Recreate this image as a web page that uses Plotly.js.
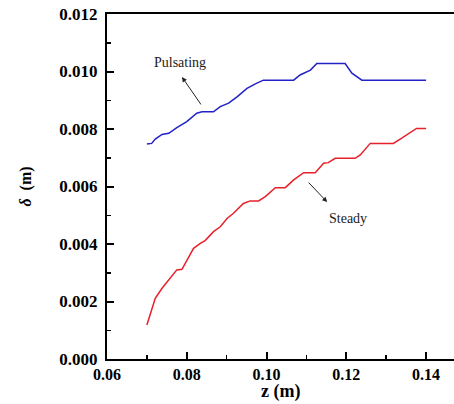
<!DOCTYPE html>
<html>
<head>
<meta charset="utf-8">
<script src="https://cdn.plot.ly/plotly-3.0.1.min.js"></script>
<style>html,body{margin:0;padding:0;background:#fff;}#chart{width:454px;height:404px;}</style>
</head>
<body>
<div id="chart"></div>
<script>
// Pulsating (blue)
const pulsZ = [0.0700, 0.0712, 0.0721, 0.0738, 0.0755, 0.0775, 0.0800, 0.0825, 0.0838, 0.0867, 0.0884, 0.0905, 0.0926, 0.0951, 0.0972, 0.0992, 0.1068, 0.1084, 0.1110, 0.1126, 0.1197, 0.1214, 0.1239, 0.1400];
const pulsD = [0.00748, 0.00750, 0.00765, 0.00781, 0.00785, 0.00805, 0.00826, 0.00855, 0.00860, 0.00860, 0.00878, 0.00890, 0.00912, 0.00941, 0.00957, 0.00970, 0.00970, 0.00988, 0.01005, 0.01028, 0.01028, 0.00994, 0.00970, 0.00970];
// Steady (red)
const steadyZ = [0.0700, 0.0711, 0.0721, 0.0738, 0.0759, 0.0775, 0.0788, 0.0796, 0.0817, 0.0834, 0.0846, 0.0867, 0.0884, 0.0901, 0.0917, 0.0942, 0.0959, 0.0980, 0.0997, 0.1022, 0.1047, 0.1068, 0.1093, 0.1122, 0.1143, 0.1155, 0.1172, 0.1222, 0.1235, 0.1260, 0.1318, 0.1339, 0.1376, 0.1400];
const steadyD = [0.00118, 0.00165, 0.00211, 0.00246, 0.00281, 0.00310, 0.00312, 0.00333, 0.00385, 0.00402, 0.00412, 0.00443, 0.00460, 0.00489, 0.00507, 0.00541, 0.00550, 0.00550, 0.00565, 0.00596, 0.00596, 0.00623, 0.00648, 0.00648, 0.00681, 0.00683, 0.00698, 0.00698, 0.00710, 0.00750, 0.00750, 0.00768, 0.00802, 0.00802];
const xTicks = [0.06, 0.08, 0.10, 0.12, 0.14];
const xTickText = ["0.06", "0.08", "0.10", "0.12", "0.14"];
const yTicks = [0, 0.002, 0.004, 0.006, 0.008, 0.010, 0.012];
const yTickText = ["0.000", "0.002", "0.004", "0.006", "0.008", "0.010", "0.012"];

const serif = "Liberation Serif";
const bold = a => a.map(s => "<b>" + s + "</b>");

const traces = [
  {x: pulsZ, y: pulsD, mode: "lines", line: {color: "#2222c8", width: 1.5}, name: "Pulsating", hoverinfo: "skip"},
  {x: steadyZ, y: steadyD, mode: "lines", line: {color: "#e8202a", width: 1.5}, name: "Steady", hoverinfo: "skip"}
];

const layout = {
  width: 454, height: 404,
  margin: {l: 107, r: 0, t: 14, b: 45},
  paper_bgcolor: "#fff", plot_bgcolor: "#fff",
  showlegend: false,
  font: {family: serif, color: "#000"},
  xaxis: {
    range: [0.06, 0.147], tickvals: xTicks, ticktext: bold(xTickText),
    showgrid: false, zeroline: false,
    showline: true, linecolor: "#000", linewidth: 2, mirror: true,
    ticks: "inside", ticklen: 7, tickwidth: 2, tickcolor: "#000",
    minor: {dtick: 0.01, tick0: 0.06, ticks: "inside", ticklen: 4, tickwidth: 1.5, tickcolor: "#000"},
    tickfont: {family: serif, size: 16},
    ticklabelstandoff: 0
  },
  yaxis: {
    range: [0, 0.012], tickvals: yTicks, ticktext: bold(yTickText),
    showgrid: false, zeroline: false,
    showline: true, linecolor: "#000", linewidth: 2, mirror: false,
    ticks: "inside", ticklen: 7, tickwidth: 2, tickcolor: "#000",
    minor: {dtick: 0.001, tick0: 0, ticks: "inside", ticklen: 4, tickwidth: 1.5, tickcolor: "#000"},
    tickfont: {family: serif, size: 17},
    ticklabelstandoff: 4,
    title: {text: "<b><i>δ</i>  (m)</b>", font: {family: serif, size: 16}, standoff: 24}
  },
  annotations: [
    {xref: "paper", yref: "paper", x: 0.5, y: 0, yanchor: "bottom", yshift: -45, showarrow: false,
     text: "<b>z (m)</b>", font: {family: serif, size: 18, color: "#000"}},
    {x: 0.0788, y: 0.00981, xref: "x", yref: "y", ax: 20, ay: 29, axref: "pixel", ayref: "pixel",
     showarrow: true, arrowhead: 2, arrowsize: 1, arrowwidth: 1, arrowcolor: "#222", text: ""},
    {x: 0.0783, y: 0.01033, xref: "x", yref: "y", showarrow: false, text: "Pulsating",
     font: {family: serif, size: 14, color: "#222"}},
    {x: 0.1152, y: 0.00546, xref: "x", yref: "y", ax: -20, ay: -21, axref: "pixel", ayref: "pixel",
     showarrow: true, arrowhead: 2, arrowsize: 1, arrowwidth: 1, arrowcolor: "#222", text: ""},
    {x: 0.1204, y: 0.00487, xref: "x", yref: "y", showarrow: false, text: "Steady",
     font: {family: serif, size: 14, color: "#222"}}
  ]
};

Plotly.newPlot("chart", traces, layout, {staticPlot: true, displayModeBar: false});
</script>
</body>
</html>
